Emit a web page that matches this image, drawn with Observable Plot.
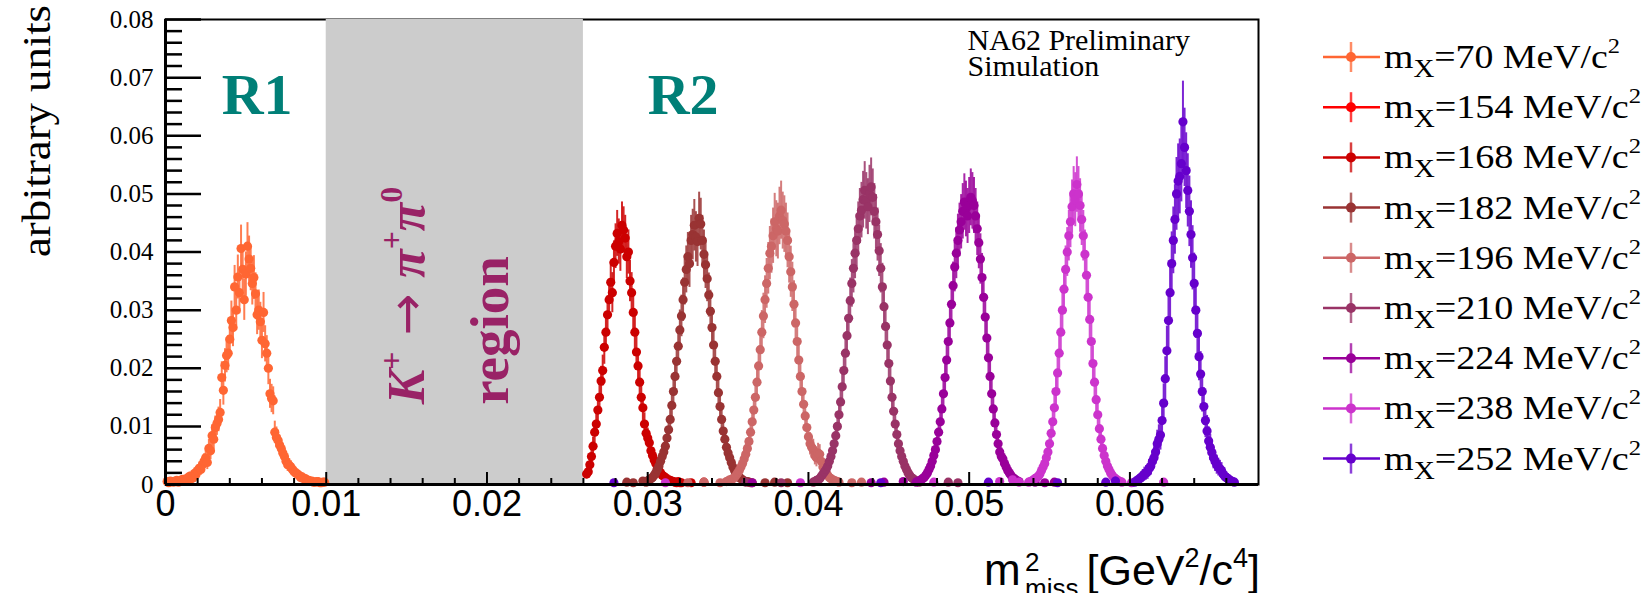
<!DOCTYPE html>
<html><head><meta charset="utf-8">
<script src="https://cdn.jsdelivr.net/npm/d3@7"></script>
<script src="https://cdn.jsdelivr.net/npm/@observablehq/plot@0.6"></script>
<style>
html,body{margin:0;padding:0;background:#fff;overflow:hidden;}
#wrap{position:relative;width:1643px;height:593px;}
g[aria-label="x-tick-labels"] text{transform-box:fill-box;transform-origin:center;transform:scaleX(0.8);}
</style></head><body><div id="wrap"></div>
<script>
// ---------------- data ----------------
const binWidth = 0.0001;
const massLabels = ["70","154","168","182","196","210","224","238","252"];
const seriesColors = ["#ff6633","#ff0000","#cc0000","#993333","#cc6666","#993366","#990099","#cc33cc","#6600cc"];
const errScale = [0.020,0.020,0.019,0.021,0.023,0.022,0.022,0.021,0.028];
const binStart = [0.0001,0.0237,0.0262,0.0297,0.0349,0.0403,0.0467,0.0537,0.0603];

const vals70 = [0.0005,0.0003,0.0006,0.0005,0.0004,0.0006,0.0007,0.0004,0.0005,0.0008,
  0.0009,0.0006,0.0008,0.0012,0.0014,0.0010,0.0011,0.0019,0.0017,0.0024,
  0.0028,0.0026,0.0034,0.0040,0.0046,0.0038,0.0062,0.0058,0.0084,0.0078,
  0.0098,0.0105,0.0112,0.0124,0.0184,0.0162,0.0205,0.0222,0.0226,0.0250,
  0.0282,0.0270,0.0340,0.0300,0.0357,0.0330,0.0406,0.0370,0.0318,0.0362,
  0.0410,0.0388,0.0372,0.0346,0.0356,0.0328,0.0292,0.0300,0.0280,0.0248,
  0.0296,0.0242,0.0226,0.0200,0.0156,0.0148,0.0144,0.0090,0.0081,0.0076,
  0.0068,0.0062,0.0054,0.0048,0.0040,0.0034,0.0033,0.0030,0.0026,0.0022,
  0.0020,0.0018,0.0016,0.0012,0.0013,0.0010,0.0010,0.0008,0.0007,0.0006,
  0.0006,0.0004,0.0004,0.0005,0.0005,0.0003,0.0003,0.0004,0.0004];
const vals154 = []; // falls inside the excluded K+ -> pi+ pi0 region
const vals168 = [0.0018,0.0022,0.0034,0.0048,0.0066,0.0090,0.0104,0.0128,0.0150,0.0178,
  0.0196,0.0236,0.0262,0.0292,0.0318,0.0348,0.0330,0.0382,0.0410,0.0432,
  0.0418,0.0405,0.0446,0.0438,0.0424,0.0392,0.0400,0.0350,0.0330,0.0296,
  0.0262,0.0228,0.0204,0.0176,0.0150,0.0132,0.0104,0.0088,0.0080,0.0072,
  0.0058,0.0050,0.0042,0.0036,0.0028,0.0024,0.0020,0.0016,0.0014,0.0012,
  0.0009,0.0008,0.0007,0.0006,0.0005,0.0004,0.0003,0.0005,0.0003,0.0003];
const vals182 = [0.0006,0.0005,0.0004,0.0006,0.0008,0.0010,0.0012,0.0016,0.0020,0.0026,
  0.0032,0.0040,0.0048,0.0056,0.0066,0.0080,0.0094,0.0112,0.0136,0.0160,
  0.0186,0.0212,0.0238,0.0266,0.0290,0.0318,0.0348,0.0370,0.0392,0.0380,
  0.0420,0.0430,0.0446,0.0426,0.0418,0.0458,0.0448,0.0420,0.0396,0.0378,
  0.0354,0.0326,0.0298,0.0270,0.0240,0.0212,0.0186,0.0158,0.0134,0.0112,
  0.0092,0.0078,0.0064,0.0054,0.0046,0.0038,0.0030,0.0024,0.0020,0.0016,
  0.0012,0.0010,0.0008,0.0006,0.0005,0.0005,0.0004,0.0003,0.0003];
const vals196 = [0.0005,0.0006,0.0008,0.0008,0.0010,0.0012,0.0016,0.0020,0.0024,0.0030,
  0.0036,0.0044,0.0052,0.0062,0.0074,0.0090,0.0108,0.0128,0.0150,0.0176,
  0.0204,0.0232,0.0262,0.0290,0.0318,0.0346,0.0372,0.0398,0.0410,0.0428,
  0.0452,0.0440,0.0436,0.0462,0.0472,0.0454,0.0448,0.0436,0.0420,0.0392,
  0.0366,0.0340,0.0310,0.0278,0.0246,0.0214,0.0186,0.0160,0.0138,0.0118,
  0.0098,0.0082,0.0070,0.0064,0.0060,0.0050,0.0046,0.0054,0.0052,0.0040,
  0.0030,0.0024,0.0020,0.0016,0.0012,0.0010,0.0008,0.0007,0.0006,0.0005,
  0.0004];
const vals210 = [0.0004,0.0005,0.0007,0.0008,0.0010,0.0014,0.0018,0.0022,0.0026,0.0032,
  0.0040,0.0048,0.0058,0.0070,0.0084,0.0100,0.0120,0.0142,0.0168,0.0196,
  0.0226,0.0256,0.0286,0.0316,0.0346,0.0372,0.0398,0.0420,0.0440,0.0462,
  0.0472,0.0490,0.0506,0.0488,0.0478,0.0500,0.0512,0.0494,0.0470,0.0452,
  0.0430,0.0402,0.0372,0.0340,0.0306,0.0272,0.0240,0.0208,0.0178,0.0150,
  0.0126,0.0104,0.0086,0.0070,0.0058,0.0048,0.0040,0.0032,0.0026,0.0020,
  0.0016,0.0012,0.0010,0.0008,0.0006,0.0005,0.0004];
const vals224 = [0.0004,0.0005,0.0006,0.0008,0.0010,0.0012,0.0016,0.0020,0.0026,0.0032,
  0.0040,0.0050,0.0060,0.0074,0.0090,0.0108,0.0130,0.0156,0.0184,0.0214,
  0.0246,0.0278,0.0310,0.0342,0.0374,0.0398,0.0420,0.0438,0.0452,0.0470,
  0.0486,0.0474,0.0462,0.0480,0.0494,0.0488,0.0480,0.0462,0.0440,0.0416,
  0.0388,0.0356,0.0322,0.0288,0.0252,0.0218,0.0186,0.0156,0.0130,0.0106,
  0.0086,0.0070,0.0056,0.0048,0.0044,0.0036,0.0030,0.0024,0.0020,0.0016,
  0.0012,0.0010,0.0008,0.0006,0.0005];
const vals238 = [0.0004,0.0005,0.0006,0.0008,0.0010,0.0012,0.0014,0.0018,0.0024,0.0030,
  0.0036,0.0046,0.0056,0.0070,0.0088,0.0108,0.0132,0.0160,0.0192,0.0226,
  0.0262,0.0300,0.0336,0.0370,0.0400,0.0428,0.0452,0.0478,0.0500,0.0490,
  0.0516,0.0500,0.0480,0.0456,0.0428,0.0396,0.0360,0.0322,0.0284,0.0246,
  0.0208,0.0176,0.0146,0.0120,0.0096,0.0078,0.0062,0.0050,0.0040,0.0032,
  0.0026,0.0020,0.0016,0.0012,0.0010,0.0008,0.0006,0.0005,0.0004];
const vals252 = [0.0004,0.0006,0.0008,0.0010,0.0012,0.0015,0.0018,0.0020,0.0022,0.0028,
  0.0032,0.0040,0.0046,0.0056,0.0070,0.0078,0.0085,0.0110,0.0140,0.0182,
  0.0230,0.0282,0.0330,0.0380,0.0420,0.0456,0.0500,0.0522,0.0530,0.0552,
  0.0624,0.0580,0.0540,0.0506,0.0470,0.0430,0.0390,0.0346,0.0300,0.0260,
  0.0220,0.0190,0.0160,0.0134,0.0110,0.0092,0.0075,0.0064,0.0055,0.0046,
  0.0040,0.0034,0.0030,0.0027,0.0024,0.0018,0.0014,0.0012,0.0010,0.0008,
  0.0006,0.0005,0.0004];

// isolated far-tail bins [x, y]
const tail168 = [[0.0327,0.0003],[0.0335,0.0004]];
const tail182 = [[0.0287,0.0004],[0.0291,0.0003],[0.0373,0.0003],[0.0379,0.0004],[0.0387,0.0003]];
const tail196 = [[0.0325,0.0003],[0.0335,0.0004],[0.0345,0.0003],[0.0427,0.0003],[0.0433,0.0004]];
const tail210 = [[0.0361,0.0004],[0.0383,0.0003],[0.0487,0.0004],[0.0493,0.0003]];
const tail224 = [[0.0365,0.0003],[0.0439,0.0003],[0.0447,0.0004],[0.0459,0.0005],[0.0541,0.0004],[0.0547,0.0003],[0.0553,0.0004]];
const tail238 = [[0.0311,0.0003],[0.0395,0.0003],[0.0478,0.0004],[0.0519,0.0005],[0.0527,0.0008],[0.0531,0.0004],[0.0601,0.0003],[0.0621,0.0004]];
const tail252 = [[0.0279,0.0003],[0.0445,0.0003],[0.0512,0.0004],[0.0555,0.0003],[0.0585,0.0004],[0.0591,0.0006]];

const yTicks = [0,0.01,0.02,0.03,0.04,0.05,0.06,0.07,0.08];
const yTickLabels = ["0","0.01","0.02","0.03","0.04","0.05","0.06","0.07","0.08"];
const yMinor = [0.002,0.004,0.006,0.008,0.012,0.014,0.016,0.018,0.022,0.024,0.026,0.028,0.032,0.034,0.036,0.038,0.042,0.044,0.046,0.048,0.052,0.054,0.056,0.058,0.062,0.064,0.066,0.068,0.072,0.074,0.076,0.078];
const xTicks = [0,0.01,0.02,0.03,0.04,0.05,0.06];
const xTickLabels = ["0","0.01","0.02","0.03","0.04","0.05","0.06"];
const xMinor = [0.002,0.004,0.006,0.008,0.012,0.014,0.016,0.018,0.022,0.024,0.026,0.028,0.032,0.034,0.036,0.038,0.042,0.044,0.046,0.048,0.052,0.054,0.056,0.058,0.062,0.064,0.066];
const excludedRegion = [{x1:0.010, x2:0.026}];

// ---------------- build table ----------------
const allVals = [vals70,vals154,vals168,vals182,vals196,vals210,vals224,vals238,vals252];
const allTails = [[],[],tail168,tail182,tail196,tail210,tail224,tail238,tail252];
const series = massLabels.map((m,s)=>{
  const pts = allVals[s].map((v,i)=>({m, x: binStart[s]+i*binWidth, y: v}));
  allTails[s].forEach(([x,y])=>pts.push({m,x,y}));
  pts.forEach(p=>{p.e = errScale[s]*Math.sqrt(p.y);});
  return pts;
});

const W=1643,H=593,mL=165,mT=19,mR=385,mB=109;
const fW=W-mL-mR, fH=H-mT-mB;
const serif="Liberation Serif, Times New Roman, serif";
const sans="Liberation Sans, Arial, sans-serif";

const dataMarks = [];
series.forEach(pts=>{
  dataMarks.push(Plot.ruleX(pts,{x:"x",y1:d=>d.y-d.e,y2:d=>d.y+d.e,stroke:"m",strokeWidth:2,strokeOpacity:0.85}));
  dataMarks.push(Plot.dot(pts,{x:"x",y:"y",r:4.6,fill:"m",stroke:null}));
});

const plot = Plot.plot({
  width:W,height:H,marginLeft:mL,marginTop:mT,marginRight:mR,marginBottom:mB,
  style:{background:"white"},
  x:{domain:[0,0.068],axis:null},
  y:{domain:[0,0.08],axis:null},
  color:{domain:massLabels,range:seriesColors},
  marks:[
    Plot.frame({stroke:"black",strokeWidth:2}),
    Plot.rect(excludedRegion,{x1:"x1",x2:"x2",y1:0,y2:0.08,fill:"#cccccc"}),
    ...dataMarks,
    Plot.tickY(yTicks,{y:d=>d,insetRight:fW-36,strokeWidth:2.5,stroke:"black"}),
    Plot.tickY(yMinor,{y:d=>d,insetRight:fW-17,strokeWidth:2.5,stroke:"black"}),
    Plot.tickX(xTicks,{x:d=>d,insetTop:fH-12,strokeWidth:2,stroke:"black"}),
    Plot.tickX(xMinor,{x:d=>d,insetTop:fH-6,strokeWidth:2,stroke:"black"}),
    Plot.ruleX([0],{strokeWidth:3,stroke:"black"}),
    Plot.ruleY([0],{strokeWidth:3,stroke:"black"}),
    Plot.text(yTicks,{y:d=>d,text:(d,i)=>yTickLabels[i],frameAnchor:"left",textAnchor:"end",dx:-12,fontFamily:serif,fontSize:25,fill:"black"}),
    Plot.text(xTicks,{x:d=>d,text:(d,i)=>xTickLabels[i],frameAnchor:"bottom",lineAnchor:"top",dy:6,fontFamily:sans,fontSize:36,fill:"black",ariaLabel:"x-tick-labels"}),
    Plot.text(["R1"],{x:0.0057,y:0.0638,text:d=>d,fontFamily:serif,fontWeight:"bold",fontSize:58,fill:"#007f77",lineAnchor:"bottom"}),
    Plot.text(["R2"],{x:0.0322,y:0.0638,text:d=>d,fontFamily:serif,fontWeight:"bold",fontSize:58,fill:"#007f77",lineAnchor:"bottom"}),
    Plot.text(["NA62 Preliminary","Simulation"],{x:0.0499,y:(d,i)=>[0.0748,0.0702][i],text:d=>d,textAnchor:"start",lineAnchor:"bottom",fontFamily:serif,fontSize:30,fill:"black"}),
    Plot.text(["region"],{x:0.0213,y:0.0137,text:d=>d,rotate:-90,textAnchor:"start",lineAnchor:"bottom",fontFamily:serif,fontWeight:"bold",fontSize:55,fill:"#992266"})
  ]
});
document.getElementById("wrap").appendChild(plot);

const sx = plot.scale("x"), sy = plot.scale("y");
const svg = d3.select(plot);

// K+ -> pi+ pi0 label, rotated
const kg = svg.append("g").attr("transform",`translate(${sx.apply(0.0161)},${sy.apply(0.0137)}) rotate(-90)`)
  .append("text").attr("text-anchor","start").attr("font-family",serif).attr("font-weight","bold").attr("font-size",52).attr("fill","#992266");
kg.append("tspan").attr("font-style","italic").text("K");
kg.append("tspan").attr("font-size",32).attr("dy",-22).text("+");
kg.append("tspan").attr("dy",22).attr("font-family","DejaVu Sans").attr("font-weight","normal").attr("font-size",50).text(" \u2192 ");
kg.append("tspan").attr("font-style","italic").text("\u03c0");
kg.append("tspan").attr("font-size",32).attr("dy",-22).text("+");
kg.append("tspan").attr("dy",22).attr("font-style","italic").text("\u03c0");
kg.append("tspan").attr("font-size",32).attr("dy",-22).text("0");

// y axis title
svg.append("text").attr("transform","translate(50,257) rotate(-90)").attr("text-anchor","start")
  .attr("font-family",serif).attr("font-size",40).attr("fill","black")
  .attr("textLength",252).attr("lengthAdjust","spacingAndGlyphs").text("arbitrary units");

// x axis title
const xt = svg.append("g").attr("font-family",sans).attr("fill","black").attr("text-anchor","start");
xt.append("text").attr("x",984).attr("y",585).attr("font-size",44).text("m");
xt.append("text").attr("x",1025).attr("y",571).attr("font-size",26).text("2");
xt.append("text").attr("x",1025).attr("y",597).attr("font-size",26).text("miss");
const xt2 = xt.append("text").attr("x",1260).attr("y",585).attr("font-size",43).attr("text-anchor","end");
xt2.append("tspan").text("[GeV");
xt2.append("tspan").attr("font-size",27).attr("dy",-18).text("2");
xt2.append("tspan").attr("dy",18).text("/c");
xt2.append("tspan").attr("font-size",27).attr("dy",-18).text("4");
xt2.append("tspan").attr("dy",18).text("]");

// legend
const lg = svg.append("g");
massLabels.forEach((m,i)=>{
  const cy = 57 + 50.2*i;
  const g = lg.append("g");
  g.append("line").attr("x1",1323).attr("x2",1380).attr("y1",cy).attr("y2",cy).attr("stroke",seriesColors[i]).attr("stroke-width",2.5);
  g.append("line").attr("x1",1351).attr("x2",1351).attr("y1",cy-15).attr("y2",cy+15).attr("stroke",seriesColors[i]).attr("stroke-width",2.5).attr("stroke-opacity",0.75);
  g.append("circle").attr("cx",1351).attr("cy",cy).attr("r",5).attr("fill",seriesColors[i]);
  const t = g.append("text").attr("x",1384).attr("y",cy+11).attr("text-anchor","start").attr("font-family",serif).attr("font-size",34).attr("fill","black")
    .attr("textLength",m.length>2?257:236).attr("lengthAdjust","spacingAndGlyphs");
  t.append("tspan").text("m");
  t.append("tspan").attr("font-size",26).attr("dy",9).text("X");
  t.append("tspan").attr("dy",-9).text(`=${m} MeV/c`);
  t.append("tspan").attr("font-size",22).attr("dy",-15).text("2");
});
</script></body></html>
